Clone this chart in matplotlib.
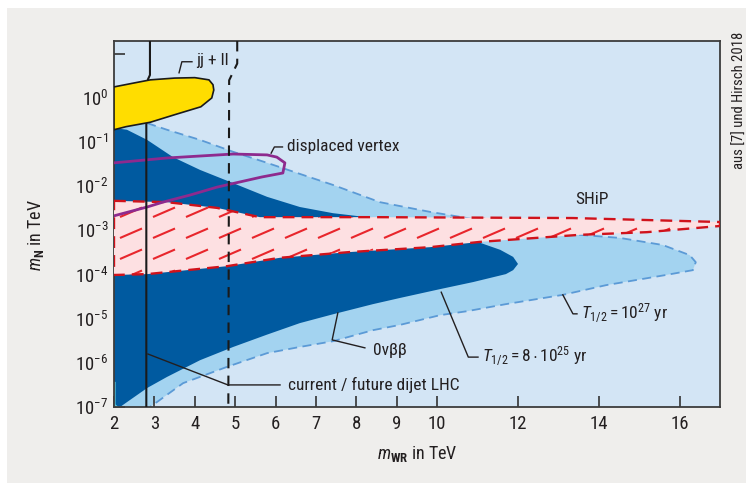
import numpy as np
import matplotlib.pyplot as plt
from matplotlib.patches import Rectangle
from matplotlib.collections import LineCollection

plt.rcParams['font.family'] = ['Roboto Condensed', 'DejaVu Sans']
plt.rcParams['mathtext.fontset'] = 'custom'
plt.rcParams['mathtext.rm'] = 'Roboto Condensed'
plt.rcParams['mathtext.it'] = 'Roboto Condensed:italic'
plt.rcParams['mathtext.bf'] = 'Roboto Condensed:bold'
plt.rcParams['mathtext.sf'] = 'Roboto Condensed'

# --- data (x = m_WR in TeV, y given as log10 of m_N in TeV) ---
# 0vbb, T1/2 = 1e27 yr (light blue)
lb_x = [2.0, 2.82, 3.31, 4.13, 4.95, 5.79, 6.60, 7.42, 8.58, 9.82, 10.74, 12.05, 13.53,
        14.52, 15.58, 16.25, 16.40, 16.33, 15.66, 14.18, 13.11, 11.70, 10.74, 10.07, 9.08,
        8.41, 7.42, 6.60, 5.79, 4.80, 3.71, 3.06, 2.89, 2.0]
lb_logy = [-0.6, -0.57, -0.72, -0.95, -1.22, -1.47, -1.72, -1.97, -2.36, -2.58, -2.72, -2.92,
           -3.10, -3.17, -3.33, -3.56, -3.72, -3.90, -4.01, -4.24, -4.46, -4.67, -4.83, -4.92,
           -5.14, -5.26, -5.51, -5.64, -5.78, -6.09, -6.46, -6.89, -7.0, -7.0]

# 0vbb, T1/2 = 8e25 yr (dark blue)
db_x = [2.0, 2.32, 2.82, 3.46, 4.13, 4.95, 5.79, 6.60, 7.42, 8.26, 9.5, 10.5, 11.06, 11.56,
        11.88, 12.0, 11.88, 11.70, 10.89, 10.07, 9.08, 8.41, 7.42, 6.60, 5.79, 4.95, 4.13,
        3.31, 2.82, 2.32, 2.15, 2.0]
db_logy = [-0.68, -0.72, -0.95, -1.34, -1.63, -1.93, -2.24, -2.47, -2.61, -2.70, -2.85, -3.08,
           -3.28, -3.44, -3.60, -3.76, -3.90, -3.99, -4.17, -4.33, -4.53, -4.67, -4.90, -5.10,
           -5.36, -5.64, -5.94, -6.32, -6.57, -6.89, -7.0, -7.0]

# SHiP band
ship_top_x = [2.0, 3.31, 4.55, 5.61, 7.42, 8.41, 13.36, 17.0]
ship_top_logy = [-2.33, -2.36, -2.49, -2.70, -2.70, -2.70, -2.72, -2.81]
ship_bot_x = [2.0, 2.82, 4.80, 6.11, 7.84, 9.82, 11.06, 13.53, 15.19, 17.0]
ship_bot_logy = [-4.01, -3.99, -3.81, -3.62, -3.49, -3.38, -3.26, -3.10, -3.04, -2.90]

# displaced vertex contour
dv_x = [2.0, 2.82, 3.21, 3.88, 4.55, 5.66, 6.18, 6.23, 6.03, 5.79, 4.95, 3.31, 2.0]
dv_logy = [-2.67, -2.47, -2.36, -2.20, -2.02, -1.79, -1.70, -1.47, -1.34, -1.29, -1.27, -1.36, -1.47]

# jj + ll region (yellow)
jj_x = [2.0, 2.5, 2.9, 3.5, 4.0, 4.35, 4.45, 4.47, 4.42, 4.15, 3.5, 2.9, 2.3, 2.0]
jj_logy = [0.25, 0.34, 0.41, 0.45, 0.46, 0.41, 0.30, 0.18, 0.0, -0.2, -0.38, -0.55, -0.65, -0.72]

# dijet LHC limits
lhc_now_x = [2.89, 2.89, 2.84, 2.80, 2.80]
lhc_now_logy = [1.29, 0.52, 0.42, 0.0, -7.0]
lhc_fut_x = [5.05, 5.05, 4.85, 4.83]
lhc_fut_logy = [1.29, 0.78, 0.40, -7.0]

xticks = [2, 3, 4, 5, 6, 7, 8, 9, 10, 12, 14, 16]
ytick_exp = [1, 0, -1, -2, -3, -4, -5, -6, -7]


def ys(v):
    return 10 ** np.array(v, dtype=float)


fig = plt.figure(figsize=(7.46, 4.83), dpi=100)
fig.patch.set_facecolor('white')
fig.patches.append(Rectangle((7 / 746, 0), 1, 1 - 8 / 483, transform=fig.transFigure,
                             facecolor='#efeeec', edgecolor='none', zorder=-10))

ax = fig.add_axes([114 / 746, 1 - 407 / 483, 606 / 746, 366 / 483])
ax.set_yscale('log')
ax.set_xlim(2, 17)
ax.set_ylim(1e-7, 10 ** 1.29)
ax.set_facecolor('#d3e5f5')

txt = '#231f20'

# light blue region + dashed outline
ax.fill(lb_x, ys(lb_logy), facecolor='#a3d3f0', edgecolor='none', zorder=1)
ax.plot(lb_x[1:-1], ys(lb_logy[1:-1]), color='#5b9ad6', lw=1.3, ls=(0, (5, 3)), zorder=1.5)
ax.plot([2.02, 2.02, 2.08], [10 ** -6.45, 10 ** -6.95, 1e-7], color='#5cc6d6', lw=1.2, zorder=2.5)

# dark blue region
ax.fill(db_x, ys(db_logy), facecolor='#005aa0', edgecolor='none', zorder=2)

# SHiP band
band_x = ship_top_x + ship_bot_x[::-1]
band_y = list(ys(ship_top_logy)) + list(ys(ship_bot_logy[::-1]))
band = ax.fill(band_x, band_y, facecolor='#fde0e2', edgecolor='none', zorder=3)[0]
# hatch texture clipped to the band
aw, ah = 606.0, 366.0
segs = []
for j in range(0, 16):
    y0 = 148 + (j - 7) * 21
    for i in range(0, 20):
        x0 = 6 + i * 33
        segs.append([(x0 / aw, y0 / ah), ((x0 + 22) / aw, (y0 + 9.5) / ah)])
hatch = LineCollection(segs, colors='#e8262c', linewidths=1.5, transform=ax.transAxes, zorder=3.3)
ax.add_collection(hatch)
hatch.set_clip_path(band)
ax.plot(band_x + [band_x[0]], band_y + [band_y[0]], color='#d0121b', lw=1.7,
        ls=(0, (5, 3)), zorder=3.5)

# displaced vertex
ax.plot(dv_x, ys(dv_logy), color='#8e2a8e', lw=2.0, zorder=4)

# LHC limits
ax.plot(lhc_now_x, ys(lhc_now_logy), color='#1a1a1a', lw=1.5, zorder=4.5)
ax.fill(jj_x, ys(jj_logy), facecolor='#ffdd00', edgecolor='#1a1a1a', lw=1.2, zorder=5)
ax.plot(lhc_fut_x, ys(lhc_fut_logy), color='#1a1a1a', lw=1.5, ls=(0, (5, 3.5)), zorder=6)

# annotations
lead = dict(color=txt, lw=1.0, zorder=7)
fs = 12.5
ax.plot([3.93, 3.68, 3.61], ys([0.82, 0.82, 0.57]), **lead)
ax.text(4.03, 10 ** 0.84, 'jj + ll', fontsize=fs, color=txt, va='center', ha='left', zorder=8)

ax.plot([5.89, 5.97, 6.17], ys([-1.25, -1.11, -1.11]), **lead)
ax.text(6.28, 10 ** -1.09, 'displaced vertex', fontsize=fs, color=txt, va='center', ha='left', zorder=8)

ax.text(13.83, 10 ** -2.31, 'SHiP', fontsize=fs, color=txt, va='center', ha='center', zorder=8)

ax.plot([13.11, 13.36, 13.46], ys([-4.46, -4.89, -4.89]), **lead)
ax.text(13.55, 10 ** -4.87, r'$T_{1/2} = 10^{27}$ yr', fontsize=fs, color=txt,
        va='center', ha='left', zorder=8)

ax.plot([10.10, 10.77, 11.01], ys([-4.40, -5.87, -5.87]), **lead)
ax.text(11.1, 10 ** -5.85, r'$T_{1/2} = 8 \cdot 10^{25}$ yr', fontsize=fs, color=txt,
        va='center', ha='left', zorder=8)

ax.plot([7.54, 7.40, 8.21], ys([-4.87, -5.48, -5.66]), **lead)
ax.text(8.4, 10 ** -5.73, '0νββ', fontsize=fs, color=txt, va='center', ha='left', zorder=8)

ax.plot([6.11, 4.82, 2.84], ys([-6.50, -6.50, -5.80]), **lead)
ax.text(6.3, 10 ** -6.50, 'current / future dijet LHC', fontsize=fs, color=txt,
        va='center', ha='left', zorder=8)

# axes styling
ax.set_xticks(xticks)
ax.set_xticklabels([str(t) for t in xticks])
ax.set_yticks([10.0 ** e for e in ytick_exp])
ax.set_yticklabels(['' if e == 1 else r'$10^{%d}$' % e for e in ytick_exp])
ax.minorticks_off()
ax.tick_params(direction='in', length=8, width=1.2, color='#333333', labelcolor=txt,
               labelsize=13.5)
ax.tick_params(axis='x', pad=6)
ax.tick_params(axis='y', pad=4)
for s in ax.spines.values():
    s.set_color('#3c3c3c')
    s.set_linewidth(1.3)

ax.set_xlabel(r'$m_{\mathbf{WR}}$ in TeV', fontsize=13, color=txt, labelpad=8)
ax.set_ylabel(r'$m_{\mathbf{N}}$ in TeV', fontsize=13, color=txt)
ax.yaxis.set_label_coords(-0.112, 0.47)

fig.text(740 / 746, 1 - 100 / 483, 'aus [7] und Hirsch 2018', rotation=90, fontsize=10.5,
         color=txt, ha='center', va='center')

fig.savefig('out.png', dpi=100)
